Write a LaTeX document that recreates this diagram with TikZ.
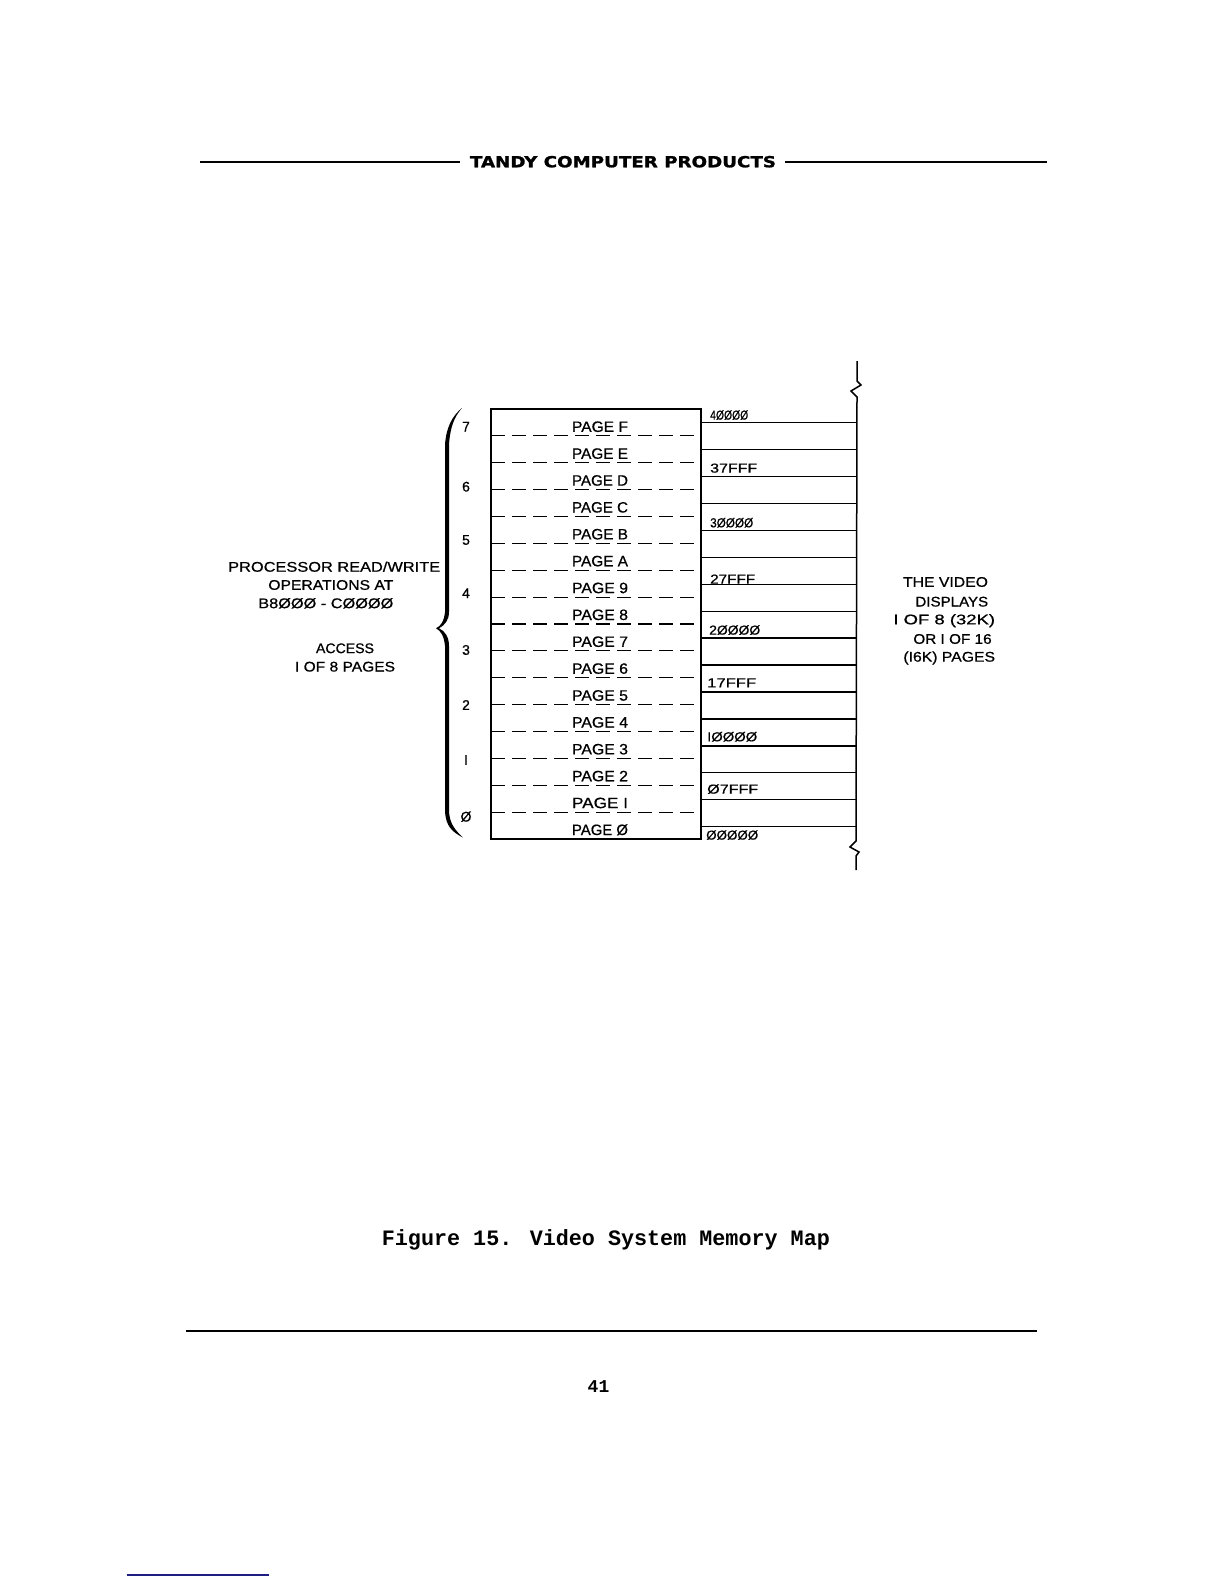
\documentclass[tikz,border=0pt]{standalone}
\usepackage{fontspec}
\usepackage{graphicx}
\setmainfont{Liberation Sans}
\newfontfamily\monofam{Liberation Mono}
\newfontfamily\lblfont[FakeBold=0.7]{Liberation Sans}
\newfontfamily\hdrfont[FakeBold=1.2]{DejaVu Sans}
\definecolor{navyline}{RGB}{30,30,130}
\newcommand\fw[2]{\resizebox{#1pt}{\height}{#2}}
\begin{document}
\begin{tikzpicture}[x=1pt,y=-1pt,
  txt/.style={inner sep=0pt, font=\lblfont\fontsize{14}{14}\selectfont},
  pagelbl/.style={inner sep=0pt, anchor=base, font=\lblfont\fontsize{15}{15}\selectfont},
  addr/.style={inner sep=0pt, anchor=base west, font=\lblfont\fontsize{13}{13}\selectfont},
  boxline/.style={line width=1.3pt},
  dashline/.style={line width=1.2pt, dash pattern=on 14pt off 7pt},
  hdrline/.style={line width=2pt},
]
\useasboundingbox[fill=white] (0,0) rectangle (1224,1584);

% header
\node[inner sep=0pt, anchor=base, font=\hdrfont\bfseries\fontsize{15.3}{16}\selectfont] (hdr) at (623,167.3) {\fw{306}{TANDY COMPUTER PRODUCTS}};
\draw[hdrline] (200,161.6) -- (460,161.6);
\draw[hdrline] (785,161.6) -- (1047,161.6);

% page box
\draw[boxline] (491,409) rectangle (701,839);
\foreach \k in {1,...,15}
  \draw[dashline] (491,{409+26.875*\k}) -- (701,{409+26.875*\k});
\foreach \p [count=\i from 0] in {F,E,D,C,B,A,9,8,7,6,5,4,3,2,I,Ø}
  \node[pagelbl] (page\i) at (600,{409+26.875*(\i+1)-4}) {\fw{56}{PAGE \p}};

% right column
\foreach \k in {0,...,15}
  \draw[boxline] (701,{422.7+26.93*\k}) -- (856,{422.7+26.93*\k});
\draw[line width=1.5pt] (857,361) -- (857,381) -- (861,385) -- (851,391) -- (857,397)
  -- (856,841) -- (850,847) -- (859,852) -- (856,856) -- (856,870);

% addresses
\node[addr] (a0) at (710,419.6) {\fw{38}{4ØØØØ}};
\node[addr] (a1) at (710,472.6) {\fw{47}{37FFF}};
\node[addr] (a2) at (710,527.3) {\fw{43}{3ØØØØ}};
\node[addr] (a3) at (710,583.6) {\fw{45}{27FFF}};
\node[addr] (a4) at (709,634.6) {\fw{51}{2ØØØØ}};
\node[addr] (a5) at (707,687.3) {\fw{49}{17FFF}};
\node[addr] (a6) at (707,741.3) {\fw{50}{IØØØØ}};
\node[addr] (a7) at (707,793.6) {\fw{51}{Ø7FFF}};
\node[addr] (a8) at (706,839.6) {\fw{52}{ØØØØØ}};

% numerals
\foreach \n/\yy [count=\j] in {7/426.7,6/486.7,5/540,4/593.3,3/650,2/705,I/760,Ø/816.7}
  \node[txt] (num\j) at (466,\yy) {\n};

% brace
\fill[black] (462,408) .. controls (452,416) and (446,428) .. (445,445) -- (445,612)
  .. controls (444,621) and (441,626) .. (436,628.3)
  .. controls (441,631) and (444,636) .. (445,646) -- (445,812)
  .. controls (446,826) and (452,832) .. (463,837.5)
  .. controls (455,830) and (450,824) .. (449,812) -- (449,646)
  .. controls (449,637) and (445,631) .. (439,628.3)
  .. controls (445,625) and (449,620) .. (449,612) -- (449,445)
  .. controls (450,428) and (454,417) .. (462,408) -- cycle;

% left text
\node[txt] (l1) at (334.2,566.7) {\fw{212}{PROCESSOR READ/WRITE}};
\node[txt] (l2) at (330.8,585) {\fw{125}{OPERATIONS AT}};
\node[txt] (l3) at (325.8,603.3) {\fw{135}{B8ØØØ - CØØØØ}};
\node[txt] (l4) at (345,648.3) {\fw{58}{ACCESS}};
\node[txt] (l5) at (345,666.7) {\fw{100}{I OF 8 PAGES}};

% right text
\node[txt] (r1) at (945.5,582) {\fw{85}{THE VIDEO}};
\node[txt] (r2) at (951.8,601.7) {\fw{72.7}{DISPLAYS}};
\node[txt] (r3) at (944.2,620.7) {\fw{101.7}{I OF 8 (32K)}};
\node[txt] (r4) at (952.5,639) {\fw{78.3}{OR I OF 16}};
\node[txt] (r5) at (949.2,658) {\fw{91.7}{(I6K) PAGES}};

% caption
\node[inner sep=0pt, anchor=base west, font=\monofam\bfseries\fontsize{22}{22}\selectfont] (cap) at (381.7,1245) {\fw{448}{Figure 15. Video System Memory Map}};

% footer
\draw[hdrline] (186,1330.7) -- (1037,1330.7);
\node[inner sep=0pt, anchor=base, font=\monofam\bfseries\fontsize{18}{18}\selectfont] (pgno) at (598.5,1392.3) {41};
\draw[line width=1.3pt, navyline] (126.7,1575) -- (269,1575);
\end{tikzpicture}
\end{document}
